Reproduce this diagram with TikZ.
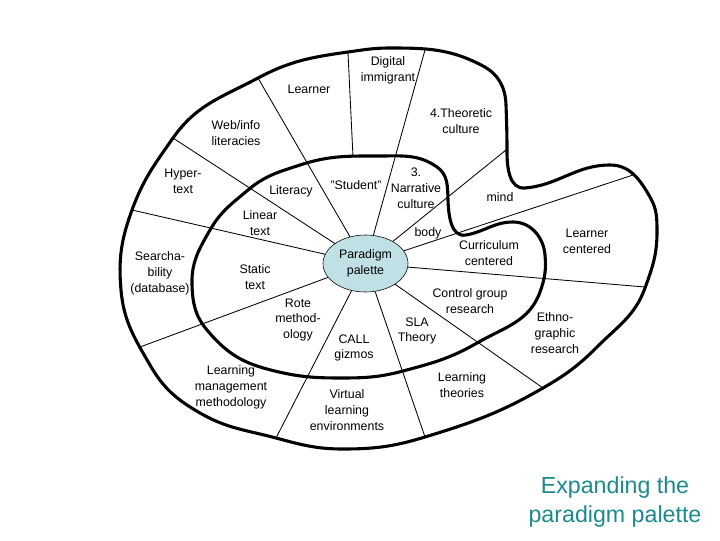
\documentclass[tikz,border=0pt]{standalone}
\usepackage{fontspec}
\setmainfont{Liberation Sans}
\usepackage{xcolor}
\usetikzlibrary{shapes.geometric}
\definecolor{palblue}{RGB}{191,224,229}
\definecolor{titleteal}{RGB}{28,138,140}
\tikzset{
  lbl/.style={align=center, inner sep=0pt, font=\fontsize{8.8}{11.3}\selectfont},
  rim/.style={line width=2.2pt},
  spoke/.style={line width=0.6pt}
}

\begin{document}
\begin{tikzpicture}[x=0.025cm, y=-0.025cm]
\useasboundingbox (0,0) rectangle (720,540);

\node[ellipse, draw, fill=palblue, minimum width=2.125cm, minimum height=1.425cm, inner sep=0pt] (pal) at (365.5,263.5) {};

% outer ends of the spokes
\coordinate (oA) at (173,138);
\coordinate (oB) at (258,78);
\coordinate (oC) at (348,53);
\coordinate (iC) at (353,157);
\coordinate (oD) at (425,50);
\coordinate (oE) at (506,150);
\coordinate (oF) at (633,175);
\coordinate (oG) at (645,287);
\coordinate (oH) at (543,388);
\coordinate (oI) at (425,437);
\coordinate (oJ) at (276,438);
\coordinate (oK) at (140,347);
\coordinate (oL) at (132,210);

\foreach \p in {oA,oB,oD,oE,oF,oG,oH,oI,oJ,oK,oL}
  \draw[spoke] (pal) -- (\p);
\draw[spoke] (oC) -- (iC);

% palette rim
\draw[rim] (390,48) to[out=0,in=152] (483,66) to[out=-28,in=92] (506,105)
  to[out=-88,in=90] (507,152) to[out=-90,in=185] (525,188)
  to[out=5,in=180] (610,165) to[out=0,in=120] (650,197)
  to[out=-60,in=90] (657,232) to[out=-90,in=70] (645,288)
  to[out=-110,in=45] (597,347) to[out=-135,in=30] (543,388)
  to[out=-150,in=17] (425,437) to[out=-163,in=0] (343,449)
  to[out=180,in=-15] (276,438) to[out=165,in=-30] (200,413)
  to[out=150,in=-60] (150,365) to[out=120,in=-85] (121,290)
  to[out=95,in=-110] (132,210) to[out=70,in=-125] (173,138)
  to[out=55,in=-152] (258,78) to[out=28,in=-172] (348,52)
  to[out=8,in=180] (390,48) -- cycle;

% inner ring
\draw[rim] (380,156) to[out=0,in=145] (437,167) to[out=-35,in=92] (448,200)
  to[out=-88,in=190] (466,235) to[out=10,in=180] (513,222)
  to[out=0,in=95] (545,255) to[out=-85,in=70] (540,292)
  to[out=-110,in=30] (477,343) to[out=-150,in=15] (403,371)
  to[out=-165,in=0] (340,378) to[out=180,in=-15] (267,369)
  to[out=165,in=-50] (207,330) to[out=130,in=-88] (192,285)
  to[out=92,in=-120] (210,230) to[out=60,in=-140] (248,190)
  to[out=40,in=-162] (300,165) to[out=18,in=180] (380,156) -- cycle;

\node[lbl] (ppal) at (pal) {Paradigm\\palette};

\node[lbl] (dig) at (388,70) {Digital\\immigrant};
\node[lbl] (lrn) at (309,89) {Learner};
\node[lbl] (theo) at (461,121) {4.Theoretic\\culture};
\node[lbl] (web) at (236,133) {Web/info\\literacies};
\node[lbl] (hyp) at (183,181) {Hyper-\\text};
\node[lbl] (lit) at (291,191) {Literacy};
\node[lbl] (stu) at (356,185) {"Student"};
\node[lbl] (narr) at (416,188) {3.\\Narrative\\culture};
\node[lbl] (mind) at (500,197) {mind};
\node[lbl] (lin) at (260,223) {Linear\\text};
\node[lbl] (body) at (428,233) {body};
\node[lbl] (curr) at (489,253) {Curriculum\\centered};
\node[lbl] (lcen) at (587,241) {Learner\\centered};
\node[lbl] (srch) at (160,273) {Searcha-\\bility\\(database)};
\node[lbl] (stat) at (255,277) {Static\\text};
\node[lbl] (ctrl) at (470,301) {Control group\\research};
\node[lbl] (rote) at (298,320) {Rote\\method-\\ology};
\node[lbl] (sla) at (417,331) {SLA\\Theory};
\node[lbl] (call) at (354,348) {CALL\\gizmos};
\node[lbl] (eth) at (555,333) {Ethno-\\graphic\\research};
\node[lbl] (lmm) at (231,387) {Learning\\management\\methodology};
\node[lbl] (lth) at (462,385) {Learning\\theories};
\node[lbl] (vle) at (347,410) {Virtual\\learning\\environments};

\node[align=center, inner sep=0pt, text=titleteal, font=\fontsize{16.5}{20}\selectfont] (title) at (615,502) {Expanding the\\paradigm palette};

\end{tikzpicture}
\end{document}
